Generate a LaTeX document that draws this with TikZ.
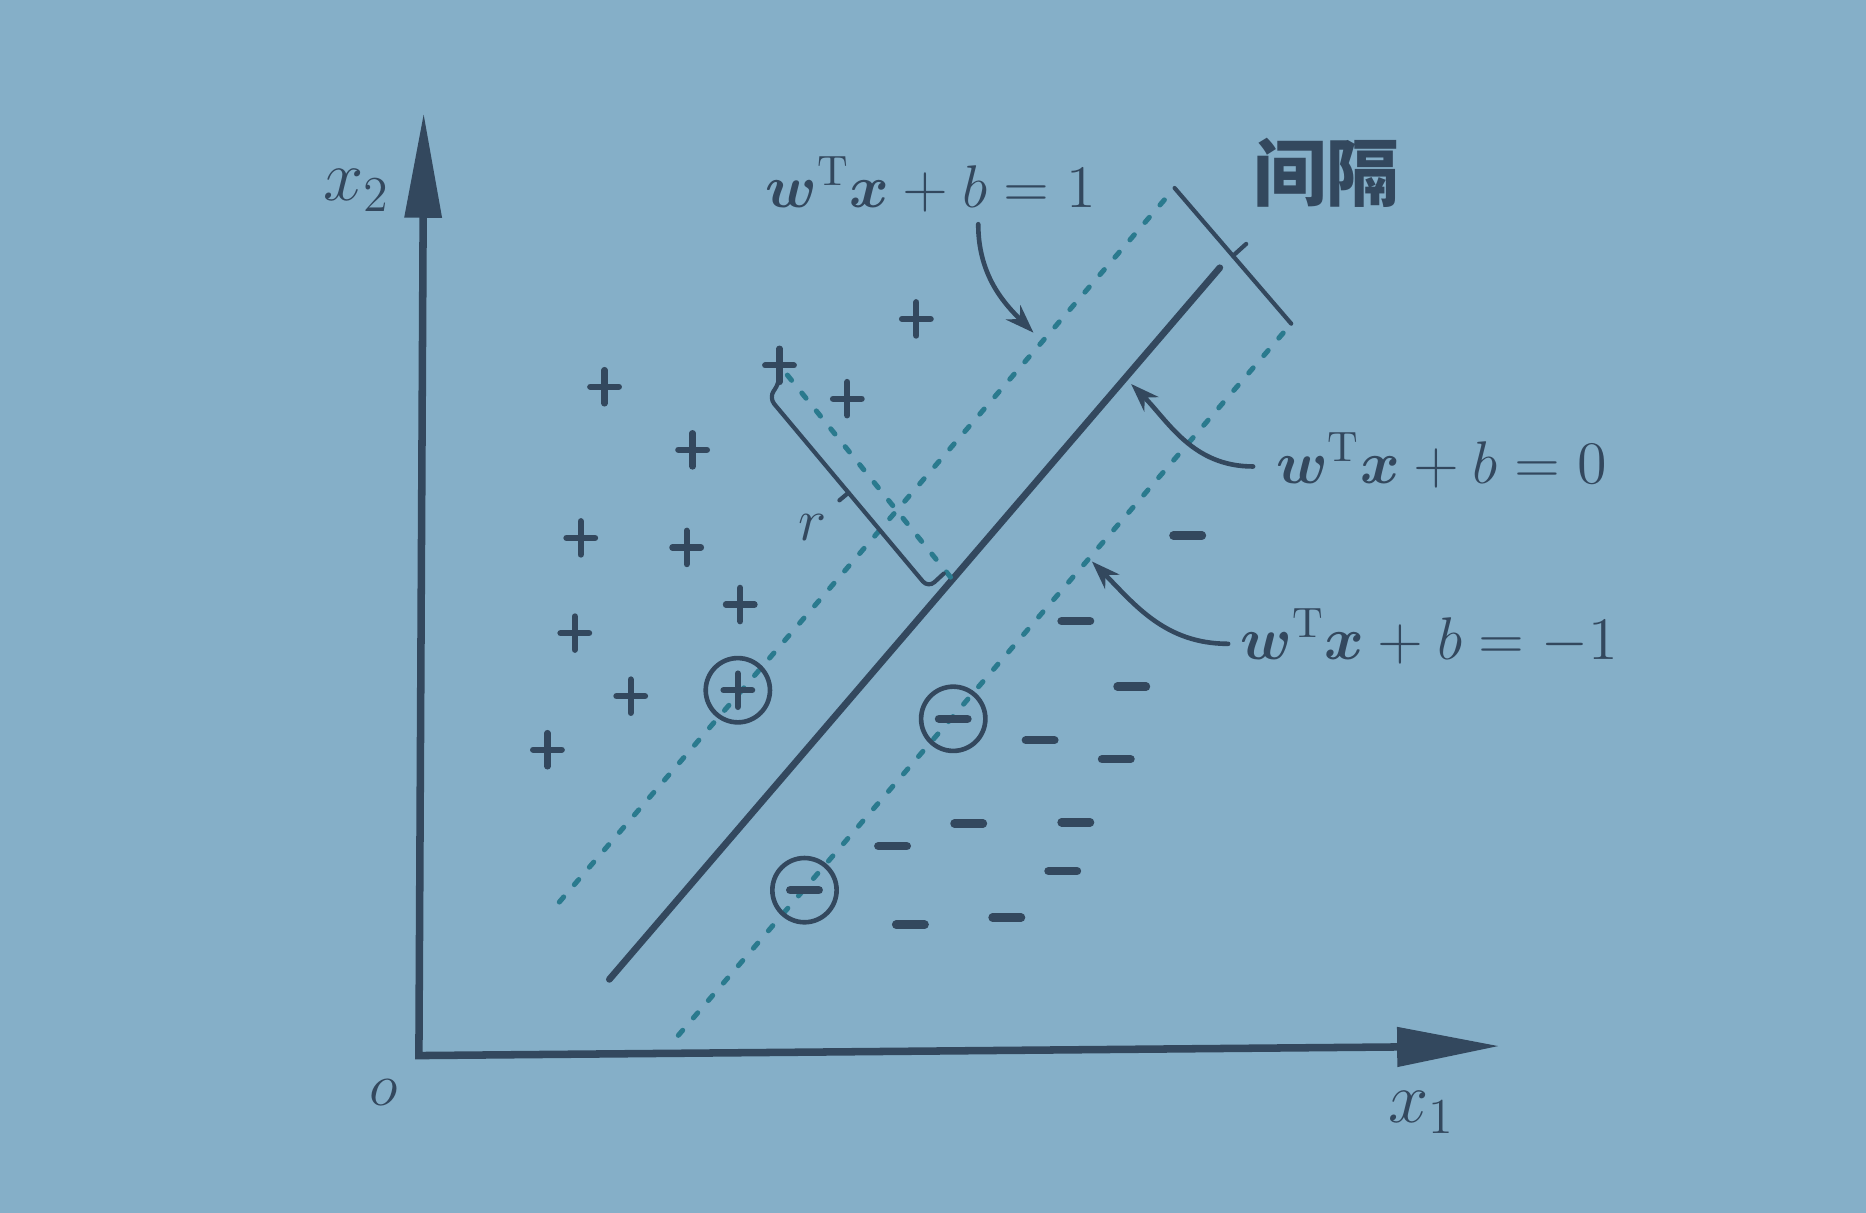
\documentclass[tikz,border=0pt]{standalone}
\usepackage{amsmath}
\usepackage{fontspec}
\newfontfamily\cjk{Noto Sans CJK SC}
\usepackage{tikz}
\usetikzlibrary{arrows.meta, calc}

\definecolor{slidebg}{HTML}{85AFC8}
\definecolor{inkdark}{HTML}{33485E}
\definecolor{inkteal}{HTML}{2A7A8E}

\begin{document}
\begin{tikzpicture}[line cap=round,
    axis/.style={draw=inkdark, line width=1.8pt, line cap=butt},
    hyper/.style={draw=inkdark, line width=1.6pt},
    margin/.style={draw=inkteal, line width=1.2pt, dash pattern=on 1.6pt off 3.9pt},
    bracket/.style={draw=inkdark, line width=1pt, line join=round},
    pointer/.style={draw=inkdark, line width=1.1pt, -{Stealth[length=0.24cm, width=0.17cm]}},
    eqn/.style={text=inkdark, font=\fontsize{14.5}{17}\selectfont, inner sep=1pt},
    axlabel/.style={text=inkdark, font=\fontsize{16.5}{19}\selectfont, inner sep=1pt},
    possign/.style={draw=inkdark, line width=1.5pt},
    negsign/.style={draw=inkdark, line width=2pt},
    ring/.style={draw=inkdark, line width=1.1pt, circle, minimum size=0.54cm, inner sep=0pt}]

    \useasboundingbox (0,0) rectangle (15.68,10.19);
    \fill[slidebg] (0,0) rectangle (15.68,10.19);

    % Axes
    \coordinate (orig) at (3.52,1.32);
    \coordinate (xend) at (12.60,1.40);
    \coordinate (yend) at (3.56,9.24);
    \draw[axis, {Triangle[length=0.86cm, width=0.32cm]}-{Triangle[length=0.88cm, width=0.30cm]}] (xend) -- (orig) -- (yend);
    \node[axlabel] (xlab) at (11.95,0.84) {$x_1$};
    \node[axlabel] (ylab) at (3.00,8.59) {$x_2$};
    \node[eqn] (olab) at (3.22,1.01) {$o$};

    % Hyperplane and the two margin lines
    \coordinate (h0a) at (5.12,1.96);
    \coordinate (h0b) at (10.25,7.94);
    \coordinate (hpa) at (4.70,2.61);
    \coordinate (hpb) at (9.87,8.61);
    \coordinate (hna) at (5.70,1.49);
    \coordinate (hnb) at (10.85,7.47);
    \draw[margin] (hpa) -- (hpb);
    \draw[margin] (hna) -- (hnb);
    \draw[hyper] (h0a) -- (h0b);

    % Margin width
    \draw[bracket] (hpb) -- (hnb);
    \draw[bracket] ($(hpb)!0.5!(hnb)$) -- ++(42:0.15);
    \node[text=inkdark, font=\cjk\bfseries\fontsize{17.5}{20}\selectfont] (gap) at (11.15,8.74) {间隔};

    % Distance r of one sample
    \coordinate (rtop) at (6.55,7.12);
    \coordinate (rfoot) at ($(h0a)!0.562!(h0b)$);
    \draw[margin, shorten <=3pt] (rtop) -- (rfoot);
    \draw[bracket, rounded corners=2pt] (6.55,7.02) -- (6.55,6.97) -- (6.46,6.85) -- (7.80,5.25) -- (7.93,5.37);
    \draw[bracket] (7.13,6.05) -- ++(220:0.1);
    \node[eqn] (rlab) at (6.83,5.76) {$r$};

    % Positive samples
    \foreach \px/\py in {7.70/7.51, 6.55/7.12, 7.12/6.84, 5.08/6.94, 5.82/6.41, 4.88/5.67,
                         5.77/5.59, 6.22/5.11, 4.83/4.87, 5.30/4.34, 4.60/3.89, 6.20/4.39}
        \draw[possign] (\px-0.12,\py) -- (\px+0.12,\py) (\px,\py-0.14) -- (\px,\py+0.14);

    % Negative samples
    \foreach \nx/\ny in {9.98/5.69, 9.04/4.97, 9.51/4.42, 8.74/3.97, 9.38/3.81, 8.14/3.27,
                         9.04/3.28, 7.50/3.08, 8.93/2.87, 7.65/2.42, 8.46/2.48, 8.01/4.15, 6.76/2.71}
        \draw[negsign] (\nx-0.12,\ny) -- (\nx+0.12,\ny);

    % Support vectors
    \node[ring] (svpos) at (6.20,4.39) {};
    \node[ring] (svnegA) at (8.01,4.15) {};
    \node[ring] (svnegB) at (6.76,2.71) {};

    % Labels of the three lines
    \node[eqn] (lblpos) at (7.82,8.64) {$\boldsymbol{w}^{\mathrm{T}}\boldsymbol{x}+b=1$};
    \node[eqn, anchor=west] (lblzero) at (10.68,6.32) {$\boldsymbol{w}^{\mathrm{T}}\boldsymbol{x}+b=0$};
    \node[eqn, anchor=west] (lblneg) at (10.38,4.84) {$\boldsymbol{w}^{\mathrm{T}}\boldsymbol{x}+b=-1$};

    \coordinate (tpos) at ($(hpa)!0.785!(hpb)$);
    \coordinate (tzero) at ($(h0a)!0.845!(h0b)$);
    \coordinate (tneg) at ($(hna)!0.67!(hnb)$);
    \draw[pointer, shorten >=3pt] ([xshift=0.4cm, yshift=-0.06cm]lblpos.south) to[out=-90, in=135] (tpos);
    \draw[pointer, shorten >=2pt] ([xshift=-0.15cm, yshift=-0.05cm]lblzero.west) to[out=180, in=-45] (tzero);
    \draw[pointer, shorten >=1pt] ([xshift=-0.06cm, yshift=-0.06cm]lblneg.west) to[out=180, in=-45] (tneg);

\end{tikzpicture}
\end{document}
